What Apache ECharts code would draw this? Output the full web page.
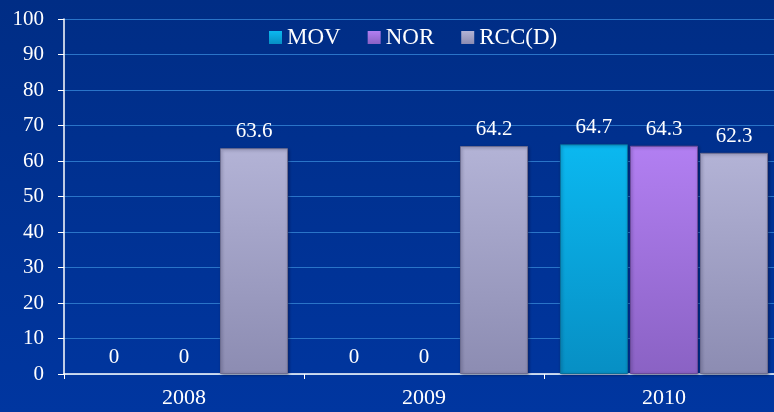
<!DOCTYPE html>
<html><head><meta charset="utf-8">
<script src="https://cdn.jsdelivr.net/npm/echarts@6/dist/echarts.min.js"></script>
<style>html,body{margin:0;padding:0;background:#003095;overflow:hidden;}#c{width:784px;height:412px;}</style>
</head><body><div id="c"></div>
<script>
const categories = ['2008', '2009', '2010'];
const movValues = [0, 0, 64.7];
const norValues = [0, 0, 64.3];
const rccValues = [63.6, 64.2, 62.3];
const seriesNames = ['MOV', 'NOR', 'RCC(D)'];

const font = 'Liberation Serif';
function grad(top, bottom) {
  return new echarts.graphic.LinearGradient(0, 0, 0, 1, [
    {offset: 0, color: top}, {offset: 1, color: bottom}
  ]);
}
const colors = [
  grad('#0bb8f0', '#078fc4'),
  grad('#b27ff2', '#8a62c4'),
  grad('#b3b3d6', '#8c8cb2')
];
const borders = ['#0a6f9a', '#6a4a9a', '#6e6e90'];
const chart = echarts.init(document.getElementById('c'));
function mk(i, data) {
  return {
    name: seriesNames[i], type: 'bar', barWidth: 68, barGap: '3%',
    data: data.map(v => v === 0 ? {value: v, itemStyle: {borderWidth: 0, shadowBlur: 0, shadowOffsetX: 0, shadowOffsetY: 0, color: 'rgba(0,0,0,0)'}} : v),
    itemStyle: {color: colors[i], borderColor: borders[i], borderWidth: 1,
      shadowColor: 'rgba(0,0,30,0.4)', shadowBlur: 3, shadowOffsetX: 1, shadowOffsetY: 1},
    label: {show: true, position: 'top', distance: 6, color: '#fff', fontFamily: font, fontSize: 21},
    emphasis: {disabled: true}
  };
}
chart.setOption({
  animation: false,
  backgroundColor: new echarts.graphic.LinearGradient(0, 0, 0, 1, [
    {offset: 0, color: '#002d85'}, {offset: 1, color: '#0036a0'}
  ]),
  legend: {
    top: 21, left: 264, itemWidth: 13, itemHeight: 13, itemGap: 27,
    textStyle: {color: '#fff', fontFamily: font, fontSize: 23},
    data: seriesNames.map((n, i) => ({name: n, icon: 'rect', itemStyle: {color: colors[i], borderWidth: 0}}))
  },
  grid: {left: 64, right: 0, top: 19, bottom: 38, containLabel: false},
  xAxis: {
    type: 'category', data: categories,
    axisLine: {lineStyle: {color: '#ffffff', width: 1.5}},
    axisTick: {show: true, length: 5, lineStyle: {color: '#ffffff'}},
    axisLabel: {color: '#fff', fontFamily: font, fontSize: 22, margin: 13}
  },
  yAxis: {
    type: 'value', min: 0, max: 100, interval: 10,
    axisLine: {show: true, lineStyle: {color: '#ffffff', width: 1.5}},
    axisTick: {show: true, length: 6, lineStyle: {color: '#ffffff'}},
    axisLabel: {color: '#fff', fontFamily: font, fontSize: 21, margin: 20},
    splitLine: {lineStyle: {color: '#2a74c8', width: 1}}
  },
  series: [mk(0, movValues), mk(1, norValues), mk(2, rccValues)]
});
</script></body></html>
